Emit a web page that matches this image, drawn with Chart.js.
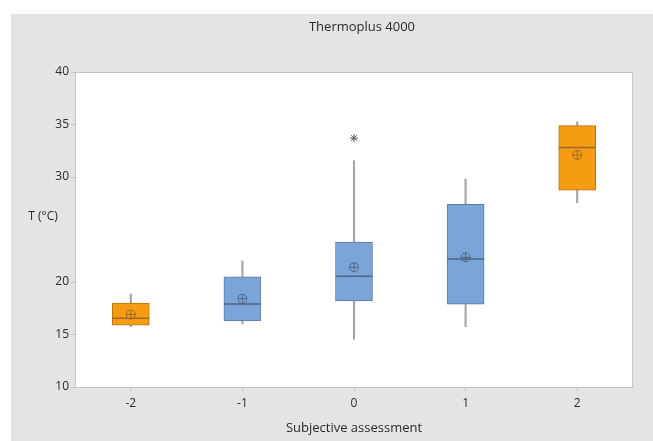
<!DOCTYPE html>
<html>
<head>
<meta charset="utf-8">
<script src="https://cdn.jsdelivr.net/npm/chart.js@4/dist/chart.umd.min.js"></script>
<style>
  html, body { margin: 0; padding: 0; background: #fff; }
  #wrap { width: 653px; height: 441px; position: relative; }
</style>
</head>
<body>
<div id="wrap"><canvas id="boxChart"></canvas></div>
<script>
// data
const categories = ['-2', '-1', '0', '1', '2'];
const whiskerLow  = [15.75, 16.0, 14.55, 15.75, 27.55];
const q1          = [15.9, 16.3, 18.2, 17.9, 28.75];
const medians     = [16.55, 17.9, 20.55, 22.2, 32.8];
const q3          = [18.0, 20.5, 23.8, 27.4, 34.9];
const whiskerHigh = [18.85, 22.0, 31.55, 29.8, 35.25];
const means       = [16.9, 18.4, 21.4, 22.35, 32.1];
const outliers    = [null, null, 33.7, null, null];
const yTicks      = [10, 15, 20, 30, 35, 40]; // 25 is hidden behind the axis label

const ORANGE = '#f59c12', BLUE = '#7ba5d8';
const ORANGE_LINE = '#b9741a', BLUE_LINE = '#5b7aa3';
const isOrange = categories.map((c, i) => i === 0 || i === 4);
const fills = isOrange.map(o => o ? ORANGE : BLUE);
const lines = isOrange.map(o => o ? ORANGE_LINE : BLUE_LINE);
const inner = isOrange.map(o => o ? '#9a6a2a' : '#4f6580');

const FONT = "'Open Sans', 'Noto Sans', sans-serif";

const backdrop = {
    id: 'backdrop',
    beforeDraw(chart) {
        const { ctx, chartArea: a } = chart;
        ctx.save();
        ctx.fillStyle = '#fff';
        ctx.fillRect(0, 0, chart.width, chart.height);
        ctx.fillStyle = '#e4e4e4';
        ctx.fillRect(11, 14, chart.width - 11, chart.height - 14);
        ctx.fillStyle = '#fff';
        ctx.fillRect(a.left, a.top, a.right - a.left, a.bottom - a.top);
        ctx.restore();
    },
    afterDraw(chart) {
        const { ctx, chartArea: a } = chart;
        ctx.save();
        ctx.strokeStyle = '#c4c4c4';
        ctx.lineWidth = 1;
        ctx.strokeRect(a.left + 0.5, a.top + 0.5, a.right - a.left - 1, a.bottom - a.top);
        ctx.fillStyle = '#2a2a2a';
        ctx.textAlign = 'center';
        ctx.textBaseline = 'middle';
        // title, centred over the middle of the page as in the original
        ctx.font = '13px ' + FONT;
        ctx.fillText('Thermoplus 4000', 362, 27);
        // horizontal y-axis label
        ctx.font = '12px ' + FONT;
        ctx.fillText('T (°C)', 43, chart.scales.y.getPixelForValue(26.2));
        ctx.restore();
    }
};

new Chart(document.getElementById('boxChart'), {
    type: 'bar',
    data: {
        labels: categories,
        datasets: [
            {
                label: 'whisker',
                data: categories.map((c, i) => [whiskerLow[i], whiskerHigh[i]]),
                backgroundColor: '#a6a6a6',
                barThickness: 1.5,
                grouped: false,
                order: 5
            },
            {
                label: 'box',
                data: categories.map((c, i) => [q1[i], q3[i]]),
                backgroundColor: fills,
                borderColor: lines,
                borderWidth: 1,
                borderSkipped: false,
                barThickness: 37,
                grouped: false,
                order: 4
            },
            {
                type: 'line',
                label: 'median',
                data: medians,
                showLine: false,
                pointStyle: 'line',
                pointRadius: 18.5,
                pointBorderWidth: 1.5,
                pointBorderColor: inner,
                order: 3
            },
            {
                type: 'line',
                label: 'mean ring',
                data: means,
                showLine: false,
                pointStyle: 'circle',
                pointRadius: 4.5,
                pointBorderWidth: 1,
                pointBackgroundColor: 'rgba(0,0,0,0)',
                pointBorderColor: inner,
                order: 2
            },
            {
                type: 'line',
                label: 'mean cross',
                data: means,
                showLine: false,
                pointStyle: 'cross',
                pointRadius: 4.5,
                pointBorderWidth: 1,
                pointBorderColor: inner,
                order: 2
            },
            {
                type: 'line',
                label: 'outlier',
                data: outliers,
                showLine: false,
                pointStyle: 'star',
                pointRadius: 4,
                pointBorderWidth: 1,
                pointBorderColor: '#555',
                order: 1
            }
        ]
    },
    options: {
        responsive: true,
        maintainAspectRatio: false,
        animation: false,
        layout: { padding: { left: 0, right: 18, top: 72, bottom: 0 } },
        plugins: {
            legend: { display: false },
            tooltip: { enabled: false },
            title: { display: false }
        },
        scales: {
            x: {
                afterFit(scale) { scale.height = 54; },
                grid: { offset: false, drawOnChartArea: false, drawTicks: true, tickLength: 4, color: '#c4c4c4' },
                border: { color: '#c4c4c4' },
                ticks: { color: '#2a2a2a', padding: 5, font: { family: FONT, size: 12 } },
                title: {
                    display: true,
                    text: 'Subjective assessment',
                    color: '#2a2a2a',
                    font: { family: FONT, size: 13, lineHeight: 1.2 },
                    padding: { top: 0, bottom: 5 }
                }
            },
            y: {
                min: 10,
                max: 40,
                afterFit(scale) { scale.width = 75; },
                afterBuildTicks(scale) { scale.ticks = yTicks.map(v => ({ value: v })); },
                grid: { drawOnChartArea: false, drawTicks: true, tickLength: 4, color: '#c4c4c4' },
                border: { color: '#c4c4c4' },
                ticks: { color: '#2a2a2a', padding: 2, font: { family: FONT, size: 12 } }
            }
        }
    },
    plugins: [backdrop]
});
</script>
</body>
</html>
